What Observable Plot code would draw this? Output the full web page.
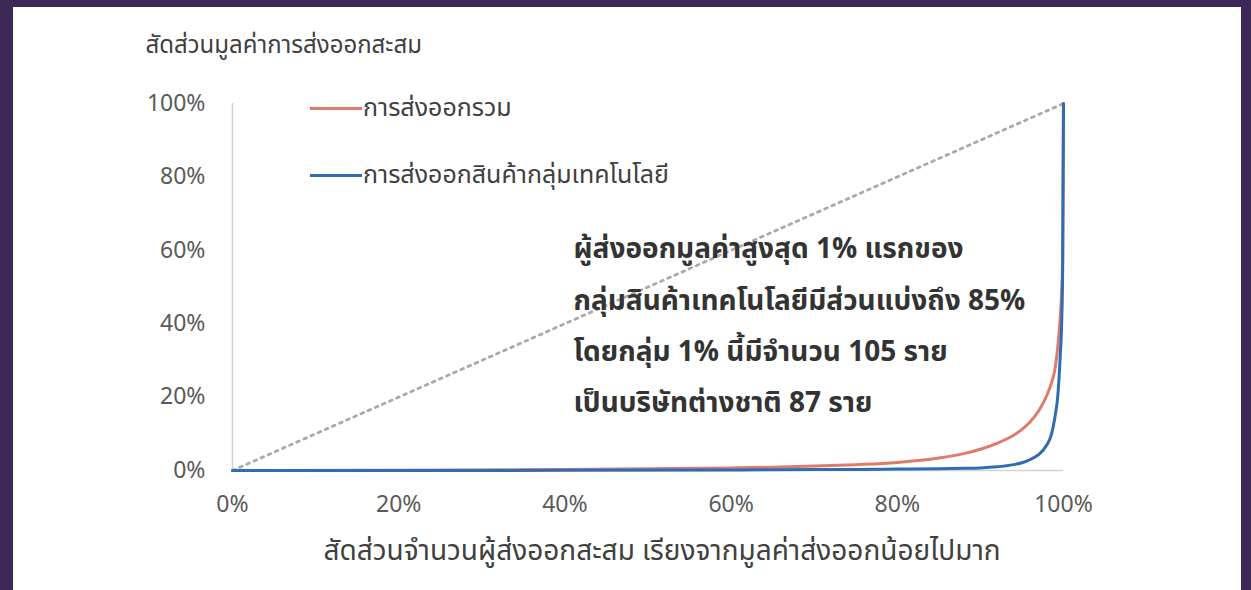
<!DOCTYPE html>
<html>
<head>
<meta charset="utf-8">
<script src="https://cdn.jsdelivr.net/npm/d3@7"></script>
<script src="https://cdn.jsdelivr.net/npm/@observablehq/plot@0.6"></script>
<style>
  html, body { margin: 0; padding: 0; background: #3c2856; width: 1251px; height: 590px; overflow: hidden; }
  #panel { position: absolute; left: 13px; top: 7px; width: 1228px; height: 583px; background: #fff; }
  #legend { position: absolute; left: 297px; top: 0; font-family: "Noto Sans Thai", Tahoma, "DejaVu Sans", sans-serif; font-size: 25px; color: #404040; }
  .item { position: absolute; white-space: nowrap; display: flex; align-items: center; }
  .swatch { display: inline-block; width: 52px; height: 3px; margin-right: 1px; }
</style>
</head>
<body>
<div id="panel"></div>
<script>
// Cumulative share of exporters (sorted small -> large), %
const shareX = [0, 20, 40, 60, 65, 70, 75, 80, 85, 88, 90, 92, 94, 95, 96, 97, 98, 98.5, 99, 99.3, 99.6, 99.8, 99.9, 100];
// Cumulative share of export value, total exports, %
const totalExports = [0, 0.1, 0.3, 0.7, 0.9, 1.2, 1.6, 2.2, 3.4, 4.6, 5.8, 7.4, 9.6, 11.2, 13.3, 16.2, 20.5, 23.5, 28, 33.5, 41.5, 50, 58, 100];
// Cumulative share of export value, technology products, %
const techExports = [0, 0, 0.05, 0.15, 0.2, 0.25, 0.3, 0.4, 0.5, 0.6, 0.7, 1.0, 1.6, 2.1, 3.0, 4.3, 7.0, 9.5, 15, 20, 31, 42, 55, 100];
const equality = [0, 100];
const ticks = [0, 20, 40, 60, 80, 100];
const seriesNames = ["การส่งออกรวม", "การส่งออกสินค้ากลุ่มเทคโนโลยี"];
const seriesColors = ["#de7b6c", "#2f6cb3"];
const yTitle = "สัดส่วนมูลค่าการส่งออกสะสม";
const xTitle = "สัดส่วนจำนวนผู้ส่งออกสะสม เรียงจากมูลค่าส่งออกน้อยไปมาก";
const note = ["ผู้ส่งออกมูลค่าสูงสุด 1% แรกของ", "กลุ่มสินค้าเทคโนโลยีมีส่วนแบ่งถึง 85%", "โดยกลุ่ม 1% นี้มีจำนวน 105 ราย", "เป็นบริษัทต่างชาติ 87 ราย"];

const rows = shareX.map((x, i) => ({x, total: totalExports[i], tech: techExports[i]}));
const font = '"Noto Sans Thai", Tahoma, "DejaVu Sans", sans-serif';
const noteOffsets = [146, 198, 249, 300];

const chart = Plot.plot({
  width: 1228,
  height: 583,
  marginLeft: 219,
  marginRight: 178,
  marginTop: 96,
  marginBottom: 120,
  style: {fontFamily: font, background: "transparent", overflow: "visible"},
  x: {domain: [0, 100], label: null},
  y: {domain: [0, 100], label: null},
  marks: [
    Plot.axisX({ticks, tickFormat: d => d + "%", tickSize: 0, tickPadding: 25, fontSize: 23, fill: "#5a5a5a", label: null}),
    Plot.axisY({ticks, tickFormat: d => d + "%", tickSize: 0, tickPadding: 27, fontSize: 23, fill: "#5a5a5a", label: null}),
    Plot.ruleX([0], {stroke: "#d2d2d2", strokeWidth: 1.5}),
    Plot.ruleY([0], {stroke: "#d2d2d2", strokeWidth: 1.5}),
    Plot.line(equality, {x: d => d, y: d => d, stroke: "#aaaaaa", strokeWidth: 2.8, strokeDasharray: "2.8 5"}),
    Plot.line(rows, {x: "x", y: "total", stroke: seriesColors[0], strokeWidth: 3, curve: "monotone-x"}),
    Plot.line(rows, {x: "x", y: "tech", stroke: seriesColors[1], strokeWidth: 3, curve: "monotone-x"}),
    Plot.text([yTitle], {frameAnchor: "top-left", dx: -87, dy: -58, textAnchor: "start", lineAnchor: "middle", fontSize: 24, fill: "#404040"}),
    Plot.text([xTitle], {frameAnchor: "bottom", dx: 14, dy: 81, lineAnchor: "middle", fontSize: 28, fill: "#404040"}),
    ...note.map((line, i) => Plot.text([line], {frameAnchor: "top-left", dx: 341, dy: noteOffsets[i], textAnchor: "start", lineAnchor: "middle", fontSize: 28, fontWeight: "bold", fill: "#333333"}))
  ]
});
chart.style.position = "absolute";
chart.style.left = "0px";
chart.style.top = "0px";
const panel = document.getElementById("panel");
panel.appendChild(chart);

const legend = document.createElement("div");
legend.id = "legend";
const legendTops = [99, 166];
seriesNames.forEach((name, i) => {
  const it = document.createElement("div");
  it.className = "item";
  it.style.top = (legendTops[i] - 17) + "px";
  const sw = document.createElement("span");
  sw.className = "swatch";
  sw.style.background = seriesColors[i];
  const tx = document.createElement("span");
  tx.textContent = name;
  it.appendChild(sw);
  it.appendChild(tx);
  legend.appendChild(it);
});
panel.appendChild(legend);
</script>
</body>
</html>
